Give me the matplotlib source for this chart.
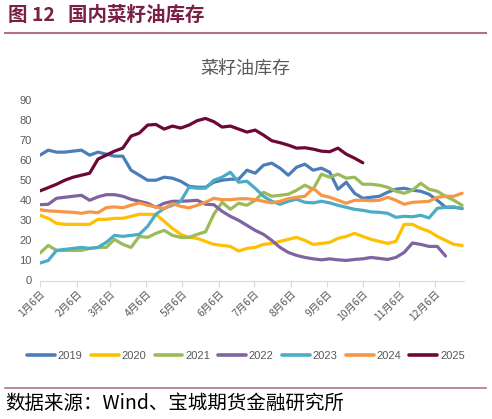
import matplotlib
matplotlib.use("Agg")
import matplotlib.pyplot as plt
import numpy as np
import pandas as pd

# ---- data (weekly, starting Jan 6) ----
weeks = pd.date_range("2021-01-06", periods=52, freq="7D")
tick_dates = pd.to_datetime([f"2021-{m:02d}-06" for m in range(1, 13)])
tick_labels = [f"{m}月6日" for m in range(1, 13)]

s2019 = [62.5, 65, 64, 64, 64.5, 65, 62.5, 64, 63, 62, 62, 55, 52.5, 50, 50, 51.5,
         51, 49.5, 47, 46.5, 46.5, 49, 50, 50.5, 50.5, 55, 53.5, 57.5, 58.5, 56, 52.5,
         56.5, 58, 55, 56, 54, 45.5, 49, 43.5, 41, 41.5, 42, 44, 45.5, 46, 45, 44.5,
         43, 40, 36.5, 36.5, 36]
s2020 = [32.5, 31, 28.5, 28, 28, 28, 28, 30.5, 30.5, 31, 31, 32, 33, 33, 33, 29.5,
         26, 23, 21.5, 21, 19.5, 18, 17.5, 17, 14.7, 16, 16.5, 18, 18.5, 19.5, 20.5,
         21.5, 20, 18, 18.5, 19, 21, 22, 23.5, 22, 20.5, 19.5, 18.5, 19.5, 28, 28, 26,
         24.5, 22, 20, 18, 17.5]
s2021 = [13.7, 17.5, 15, 15, 15, 15, 16, 16.5, 16.5, 20.5, 18, 16.5, 22, 21.5, 23.5,
         25, 22.5, 21.5, 21.5, 23, 24.3, 33, 39, 35.5, 38.5, 37.5, 40, 44, 42, 42.5,
         43, 45, 47.5, 45.5, 53, 51.5, 53, 51, 51.5, 48, 48, 47.5, 46.5, 44.5, 43.5,
         45, 48.5, 45.5, 44.5, 42, 40, 37.5]
s2022 = [37.8, 38, 41, 41.5, 42, 42.5, 40, 41.7, 42.8, 42.8, 42, 40.5, 39.5, 38.5,
         36.5, 38.5, 39.5, 39.5, 39.7, 40, 38, 37.8, 34.5, 32, 30, 27.5, 25, 23, 20,
         16.5, 14, 12.5, 11.5, 10.8, 10.3, 10.8, 10.3, 10, 10.5, 10.8, 11.5, 11, 10.5,
         11.5, 14, 18.7, 18, 17, 17, 12.2, np.nan, np.nan]
s2023 = [8.7, 10, 15, 15.5, 16, 16.5, 16, 16.5, 19, 22.5, 22, 22.5, 23, 27, 33, 36,
         37.5, 39.5, 46.5, 46, 46, 50, 51.5, 54, 49, 49.5, 46, 42, 39.5, 38, 39.5,
         40.5, 39, 38.7, 39.5, 38.7, 37.5, 36.5, 35.5, 35, 34.2, 34, 33.5, 31.5, 32,
         31.8, 32.5, 31.2, 36, 36.5, 36.7, 35.8]
s2024 = [35.3, 34.7, 34.5, 34.2, 34, 33.5, 34.2, 33.8, 36.3, 36.7, 36.3, 37.5, 38.7,
         37.5, 36.7, 35.8, 38.3, 37, 36.2, 37.5, 39, 41, 40.3, 40.3, 40.7, 40.8, 40.3,
         39.5, 38.7, 39.5, 40.8, 41.5, 42, 46, 42.5, 41.5, 40, 38.5, 40, 40, 39.8, 40,
         41.5, 40, 38, 39, 39.2, 39.5, 41.5, 42, 42, 43.5]
s2025 = [44.7, 46.3, 48, 50, 51.5, 52.5, 53.5, 60.5, 62.5, 64.5, 66, 72, 73.5, 77.5,
         77.8, 75.5, 77, 76, 77.5, 79.7, 80.8, 79.2, 76.5, 77, 75.5, 74, 75, 72.5,
         69.7, 68.7, 67.5, 66, 66.2, 65.5, 64.5, 64.2, 66, 63, 61, 58.7] + [np.nan] * 12

series_names = ["2019", "2020", "2021", "2022", "2023", "2024", "2025"]
series_vals = [s2019, s2020, s2021, s2022, s2023, s2024, s2025]
colors = ["#4A7EBB", "#FFC000", "#9BBB59", "#8064A2", "#4BACC6", "#F79646", "#6B0836"]

plt.rcParams["font.family"] = ["Liberation Sans", "Noto Sans CJK SC", "DejaVu Sans"]
cjk = ["Noto Sans CJK SC", "DejaVu Sans"]

fig = plt.figure(figsize=(4.92, 4.19), dpi=100)
ax = fig.add_axes([40 / 492, 1 - 280.5 / 419, 424 / 492, 180.5 / 419])

for name, vals, c in zip(series_names, series_vals, colors):
    ax.plot(weeks, vals, color=c, lw=2.3, label=name, solid_capstyle="round",
            solid_joinstyle="round")

ax.set_ylim(0, 90)
ax.set_yticks(range(0, 91, 10))
ax.set_xlim(pd.Timestamp("2021-01-06"), pd.Timestamp("2021-12-30") + pd.Timedelta(hours=14))
ax.set_xticks(tick_dates)
ax.set_xticklabels(tick_labels, rotation=45, ha="right", va="top",
                   rotation_mode="anchor", family=cjk, fontsize=7.5, color="#595959")
ax.tick_params(axis="y", length=0, labelsize=8, labelcolor="#595959", pad=6)
ax.tick_params(axis="x", length=4, color="#D9D9D9", width=0.8, pad=2)
for sp in ["top", "right", "left"]:
    ax.spines[sp].set_visible(False)
ax.spines["bottom"].set_color("#D9D9D9")
ax.spines["bottom"].set_linewidth(0.8)

leg = fig.legend(loc="center", bbox_to_anchor=(246 / 492, 1 - 355.7 / 419), ncol=7,
                 frameon=False, fontsize=8, handlelength=2.5, handletextpad=0.25,
                 columnspacing=0.75, labelcolor="#595959", borderpad=0.2)
for h in leg.get_lines():
    h.set_linewidth(2.6)

# header
fig.text(8 / 492, 1 - 15.5 / 419, "图 12   国内菜籽油库存", family=cjk, fontsize=14,
         fontweight="bold", color="#7A1F45", ha="left", va="center")
fig.add_artist(plt.Line2D([5 / 492, 486 / 492], [1 - 33.3 / 419] * 2,
                          color="#B07090", lw=1.5, transform=fig.transFigure))
fig.text(245 / 492, 1 - 69 / 419, "菜籽油库存", family=cjk, fontsize=13,
         color="#595959", ha="center", va="center")

# footer
fig.add_artist(plt.Line2D([5 / 492, 486 / 492], [1 - 387.7 / 419] * 2,
                          color="#B07090", lw=1.2, transform=fig.transFigure))
fig.text(5 / 492, 1 - 403.5 / 419, "数据来源：Wind、宝城期货金融研究所", family=cjk,
         fontsize=14, color="#000000", ha="left", va="center")

fig.savefig("out.png", dpi=100)
